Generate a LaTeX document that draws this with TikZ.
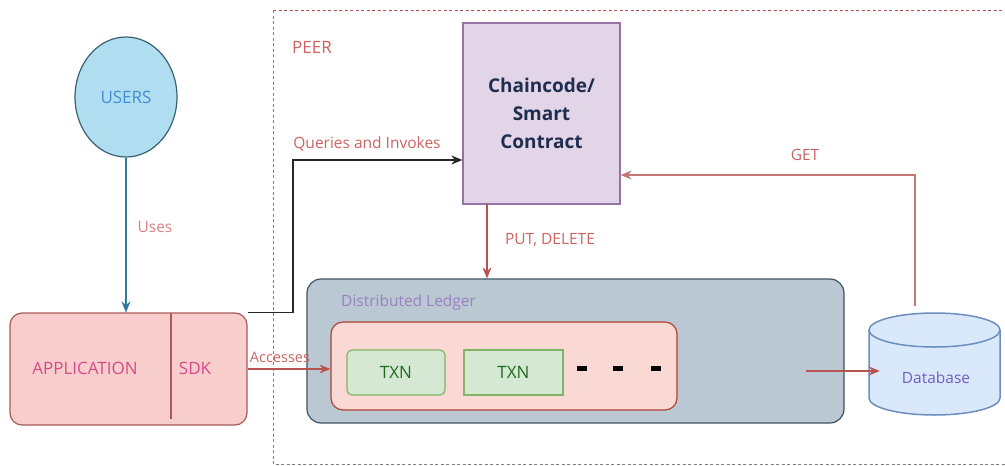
\documentclass[tikz,border=0pt]{standalone}
\usepackage{fontspec}
\setmainfont{Open Sans}
\usetikzlibrary{arrows.meta,calc,positioning,shapes.geometric}

\definecolor{userfill}{HTML}{B1DDF0}
\definecolor{userline}{HTML}{3A6272}
\definecolor{usertext}{HTML}{3E8FD6}
\definecolor{usesblue}{HTML}{2F7A9E}
\definecolor{appfill}{HTML}{F8CECC}
\definecolor{appline}{HTML}{A85A56}
\definecolor{apptext}{HTML}{D9488C}
\definecolor{ccfill}{HTML}{E1D5E7}
\definecolor{ccline}{HTML}{9673A6}
\definecolor{cctext}{HTML}{1F2D4F}
\definecolor{ledgerfill}{HTML}{BAC8D3}
\definecolor{ledgerline}{HTML}{3C5566}
\definecolor{ledgertext}{HTML}{9A80C0}
\definecolor{blockfill}{HTML}{FAD9D5}
\definecolor{blockline}{HTML}{AE4132}
\definecolor{txnfill}{HTML}{D5E8D4}
\definecolor{txnline}{HTML}{82B366}
\definecolor{txntext}{HTML}{1E6B1E}
\definecolor{dbfill}{HTML}{DAE8FC}
\definecolor{dbline}{HTML}{6C8EBF}
\definecolor{dbtext}{HTML}{6E5FC4}
\definecolor{labelred}{HTML}{CC6360}
\definecolor{arrowred}{HTML}{B85450}

\begin{document}
\begin{tikzpicture}[x=1pt, y=-1pt,
    txt/.style={font=\fontsize{15.5}{18}\selectfont, inner sep=0pt},
    bigtxt/.style={txt, font=\fontsize{17}{20}\selectfont},
    lbl/.style={txt, text=labelred},
    box/.style={draw, line width=1.2pt, inner sep=0pt},
    link/.style={line width=1.3pt, arrowred, -{Stealth[length=11pt,width=9pt]}},
    txnbox/.style={box, fill=txnfill, draw=txnline, minimum width=98pt, minimum height=45pt, bigtxt, text=txntext},
    blockmark/.style={fill=black, minimum width=10pt, minimum height=5pt, inner sep=0pt}]
	%%%%% START %%%%%
	\useasboundingbox (0,0) rectangle (1005,466);

	% peer border
	\draw[arrowred, line width=0.9pt, dash pattern=on 3pt off 2.5pt] (273,10) -- (1010,10);
	\draw[gray, line width=0.9pt, dash pattern=on 3pt off 2.5pt] (273,10) -- (273,464) -- (1010,464);
	\node[lbl, bigtxt, text=labelred, anchor=west] (peer) at (292,47) {PEER};

	% users and application
	\node[box, ellipse, fill=userfill, draw=userline, minimum width=102pt, minimum height=120pt,
	      bigtxt, text=usertext] (users) at (126,97) {USERS};
	\node[box, rounded corners=12pt, fill=appfill, draw=appline, minimum width=237pt, minimum height=112pt] (app) at (128.5,369) {};
	\node[bigtxt, text=apptext] (apptxt) at (85,368) {APPLICATION};
	\node[bigtxt, text=apptext] (sdk) at (195,368) {SDK};
	\coordinate (div) at (171,313);
	\draw[appline, line width=1.2pt] (div) -- ([yshift=7pt]div |- app.south);

	% chaincode
	\node[box, fill=ccfill, draw=ccline, minimum width=157pt, minimum height=181pt,
	      align=center, font=\bfseries\fontsize{19}{28}\selectfont, text=cctext] (cc) at (541.5,113.5) {Chaincode/\\Smart\\Contract};

	% ledger
	\node[box, rounded corners=14pt, fill=ledgerfill, draw=ledgerline, minimum width=537pt, minimum height=144pt] (ledger) at (575.5,351) {};
	\node[txt, text=ledgertext, anchor=west] (ledgertxt) at (341,302) {Distributed Ledger};
	\node[box, rounded corners=12pt, fill=blockfill, draw=blockline, minimum width=346pt, minimum height=88pt] (block) at (504,366) {};
	\node[txnbox, rounded corners=5pt] (txna) at (396,372.5) {TXN};
	\node[txnbox, minimum width=99pt] (txnb) at (513.5,372.5) {TXN};
	\node[blockmark] (marka) at (582,368) {};
	\node[blockmark] (markb) at (618,368) {};
	\node[blockmark] (markc) at (656,368) {};

	% database
	\node[minimum width=131pt, minimum height=102pt, inner sep=0pt] (db) at (934.5,364) {};
	\draw[fill=dbfill, draw=dbline, line width=1.5pt] (869,330) -- (869,398)
	    arc[start angle=180, end angle=0, x radius=65.5, y radius=17] -- (1000,330)
	    arc[start angle=0, end angle=-180, x radius=65.5, y radius=17];
	\draw[draw=dbline, line width=1.5pt] (869,330) arc[start angle=180, end angle=0, x radius=65.5, y radius=17];
	\node[txt, text=dbtext] (dbtxt) at (936,378) {Database};

	% connectors
	\draw[link, usesblue] (users.south) -- (users |- app.north);
	\node[lbl, text=labelred!80] (uses) at (155,227) {Uses};

	\coordinate (qbend) at (293,160);
	\draw[line width=1.5pt, black!85, -{Stealth[length=11pt,width=9pt]}] (app.north east) -| (qbend) -- (qbend -| cc.west);
	\node[lbl] (queries) at (367,144) {Queries and Invokes};

	\coordinate (put) at (487,204);
	\draw[link] (put) -- (put |- ledger.north);
	\node[lbl] (putdel) at (550,240) {PUT, DELETE};

	\coordinate (getsrc) at (915,306);
	\draw[link, arrowred!80] (getsrc) |- ([yshift=-61.5pt]cc.east);
	\node[lbl] (get) at (805,155) {GET};

	\coordinate (dbsrc) at (806,371);
	\draw[link, shorten >=-11pt] (dbsrc) -- (dbsrc -| db.west);

	\draw[link] (app.east) -- (app.east -| block.west);
	\node[lbl, font=\fontsize{14.5}{16}\selectfont] (access) at (280,357) {Accesses};
	%%%%% END %%%%%
\end{tikzpicture}
\end{document}
